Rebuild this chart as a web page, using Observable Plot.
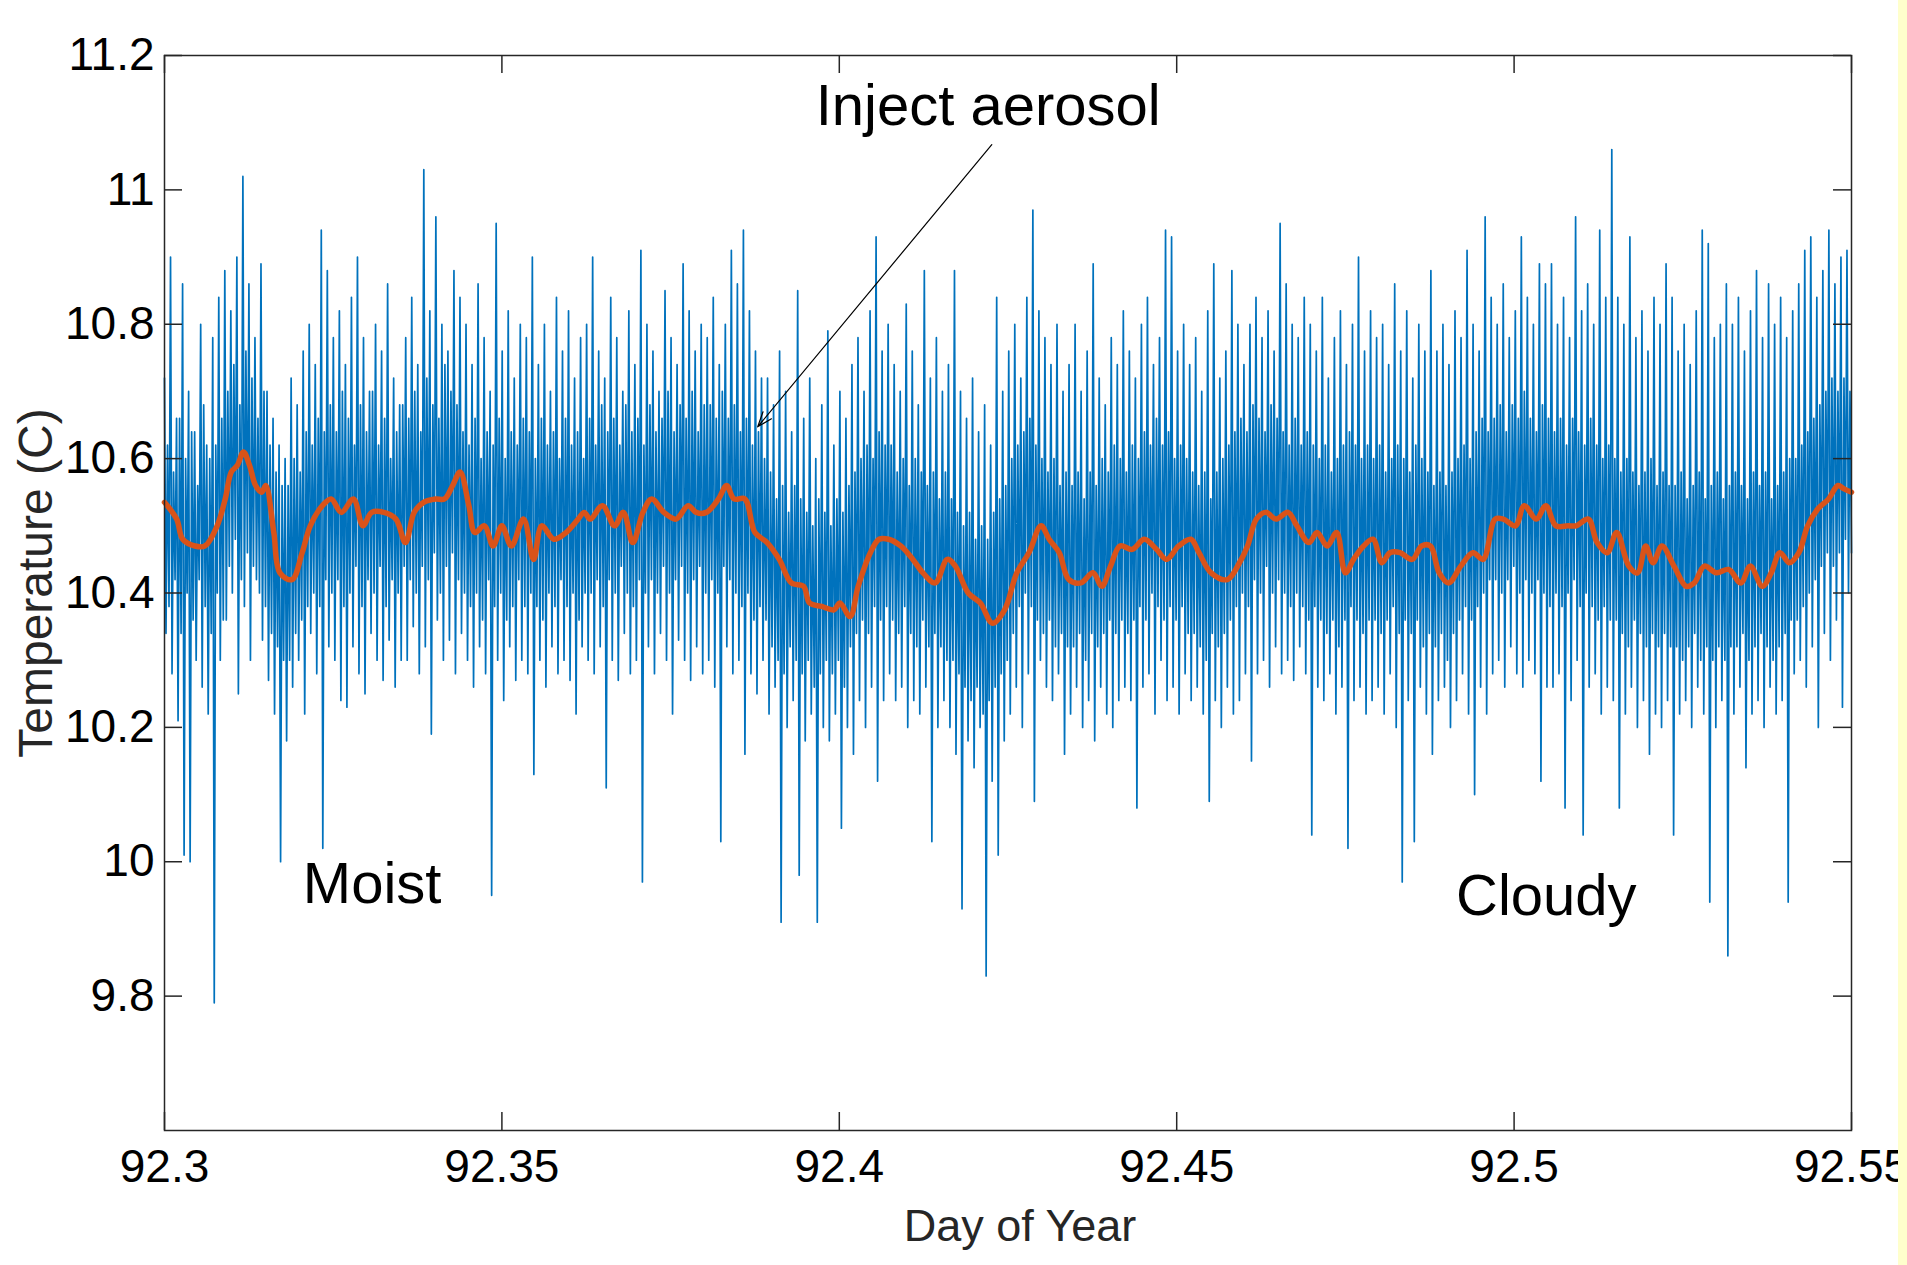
<!DOCTYPE html>
<html><head><meta charset="utf-8">
<script src="https://cdn.jsdelivr.net/npm/d3@7"></script>
<script src="https://cdn.jsdelivr.net/npm/@observablehq/plot@0.6"></script>
<style>
html,body{margin:0;padding:0;background:#fff;}
#wrap{position:relative;width:1907px;height:1265px;overflow:hidden;background:#fff;}
#strip{position:absolute;left:1898px;top:0;width:9px;height:1265px;background:#FFFFCC;z-index:2;}
svg{display:block;}
</style></head><body><div id="wrap"><div id="strip"></div></div>
<script>
// ---- data ----
const dayStart = 92.3, dayEnd = 92.55;
const xTicks = [92.3, 92.35, 92.4, 92.45, 92.5, 92.55];
const xTickLabels = ["92.3", "92.35", "92.4", "92.45", "92.5", "92.55"];
const yTicks = [9.8, 10, 10.2, 10.4, 10.6, 10.8, 11, 11.2];
const yTickLabels = ["9.8", "10", "10.2", "10.4", "10.6", "10.8", "11", "11.2"];
const yDomain = [9.6, 11.2];
const xTitle = "Day of Year";
const yTitle = "Temperature (C)";

// raw temperature, large swings: crest/trough pairs, evenly sampled from 92.3 to 92.55
const rawOuter = [
10.72,10.34,10.90,10.28,10.66,10.21,10.86,10.01,10.70,10.00,10.64,10.30,10.80,10.26,10.62,10.22,10.78,9.79,10.84,10.30,
10.88,10.36,10.82,10.40,10.90,10.25,11.02,10.38,10.86,10.30,10.78,10.42,10.89,10.33,10.70,10.27,10.66,10.22,10.62,10.00,
10.60,10.18,10.72,10.26,10.68,10.30,10.76,10.22,10.80,10.34,10.74,10.28,10.94,10.02,10.88,10.32,10.78,10.30,10.82,10.24,
10.74,10.23,10.84,10.32,10.90,10.28,10.78,10.25,10.70,10.34,10.80,10.30,10.76,10.27,10.86,10.33,10.72,10.26,10.68,10.30,
10.78,10.30,10.84,10.35,10.74,10.28,11.03,10.32,10.82,10.19,10.96,10.36,10.80,10.30,10.76,10.33,10.88,10.28,10.84,10.34,
10.80,10.30,10.74,10.26,10.86,10.32,10.78,10.28,10.70,9.95,10.95,10.30,10.76,10.24,10.82,10.32,10.72,10.27,10.80,10.30,
10.78,10.28,10.90,10.13,10.74,10.30,10.80,10.26,10.70,10.32,10.84,10.28,10.76,10.30,10.82,10.27,10.72,10.22,10.78,10.32,
10.80,10.30,10.90,10.28,10.76,10.32,10.72,10.11,10.84,10.30,10.78,10.27,10.70,10.34,10.82,10.28,10.74,10.30,10.91,9.97,
10.80,10.32,10.76,10.28,10.70,10.34,10.85,10.30,10.78,10.22,10.74,10.33,10.89,10.30,10.82,10.27,10.76,10.32,10.80,10.28,
10.78,10.30,10.84,10.26,10.74,10.03,10.80,10.32,10.91,10.28,10.86,10.30,10.94,10.16,10.82,10.28,10.76,10.25,10.72,10.30,
10.72,10.22,10.68,10.26,10.76,9.91,10.70,10.20,10.64,10.24,10.85,9.98,10.66,10.18,10.72,10.22,10.60,9.91,10.68,10.20,
10.79,10.18,10.62,10.22,10.70,10.05,10.66,10.20,10.74,10.16,10.78,10.24,10.70,10.20,10.82,10.26,10.93,10.12,10.76,10.24,
10.80,10.28,10.74,10.24,10.70,10.26,10.83,10.20,10.76,10.24,10.68,10.22,10.88,10.26,10.72,10.03,10.78,10.20,10.70,10.24,
10.74,10.20,10.88,10.16,10.70,9.93,10.66,10.18,10.72,10.14,10.64,10.20,10.68,9.83,10.62,10.12,10.84,10.01,10.70,10.18,
10.76,10.22,10.80,10.26,10.72,10.20,10.84,10.28,10.97,10.09,10.82,10.30,10.78,10.26,10.74,10.24,10.80,10.28,10.70,10.16,
10.74,10.22,10.80,10.26,10.70,10.20,10.76,10.24,10.89,10.18,10.72,10.26,10.68,10.22,10.78,10.20,10.74,10.24,10.82,10.26,
10.76,10.24,10.72,10.08,10.80,10.26,10.84,10.28,10.74,10.22,10.78,10.30,10.94,10.24,10.93,10.26,10.76,10.22,10.80,10.28,
10.74,10.24,10.78,10.26,10.70,10.22,10.82,10.09,10.89,10.24,10.72,10.20,10.76,10.26,10.88,10.22,10.80,10.24,10.74,10.28,
10.80,10.15,10.84,10.28,10.78,10.30,10.82,10.26,10.76,10.32,10.95,10.28,10.86,10.30,10.80,10.27,10.78,10.32,10.84,10.28,
10.80,10.04,10.76,10.26,10.84,10.24,10.72,10.28,10.78,10.22,10.82,10.26,10.74,10.02,10.80,10.24,10.90,10.26,10.76,10.22,
10.82,10.24,10.78,10.26,10.80,10.22,10.74,10.28,10.86,10.20,10.76,9.97,10.82,10.24,10.72,10.03,10.80,10.26,10.76,10.22,
10.88,10.16,10.76,10.24,10.80,10.26,10.74,10.20,10.82,10.24,10.78,10.28,10.91,10.22,10.80,10.10,10.76,10.26,10.96,10.22,
10.84,10.28,10.80,10.30,10.86,10.26,10.78,10.32,10.82,10.28,10.93,10.26,10.84,10.30,10.80,10.28,10.89,10.12,10.86,10.26,
10.89,10.26,10.80,10.28,10.84,10.08,10.78,10.24,10.96,10.30,10.82,10.04,10.86,10.26,10.80,10.28,10.94,10.22,10.84,10.26,
11.06,10.24,10.84,10.08,10.80,10.22,10.93,10.26,10.78,10.20,10.82,10.24,10.76,10.16,10.84,10.22,10.80,10.20,10.89,10.24,
10.84,10.04,10.76,10.22,10.80,10.24,10.74,10.20,10.82,10.26,10.94,10.22,10.92,9.94,10.78,10.20,10.80,10.24,10.86,9.86,
10.80,10.22,10.84,10.26,10.76,10.14,10.82,10.22,10.88,10.24,10.78,10.20,10.86,10.26,10.80,10.22,10.84,10.24,10.78,9.94,
10.82,10.28,10.86,10.30,10.91,10.26,10.93,10.32,10.84,10.20,10.88,10.34,10.94,10.30,10.86,10.36,10.90,10.23,10.91,10.40
];

// raw temperature, small swings in the dense core between the large ones (same sampling)
const rawInner = [
10.62,10.38,10.58,10.42,10.66,10.34,10.60,10.40,10.64,10.36,10.56,10.42,10.68,10.38,10.60,10.34,10.62,10.40,10.66,10.36,
10.70,10.44,10.74,10.48,10.68,10.42,10.76,10.46,10.72,10.44,10.66,10.40,10.70,10.38,10.62,10.34,10.58,10.32,10.56,10.30,
10.56,10.30,10.60,10.34,10.58,10.36,10.64,10.38,10.62,10.40,10.66,10.38,10.64,10.42,10.68,10.40,10.64,10.42,10.70,10.38,
10.66,10.40,10.62,10.44,10.68,10.38,10.64,10.42,10.70,10.40,10.62,10.44,10.66,10.38,10.60,10.42,10.64,10.40,10.68,10.44,
10.66,10.42,10.70,10.40,10.64,10.44,10.72,10.42,10.68,10.46,10.66,10.40,10.74,10.44,10.70,10.46,10.68,10.42,10.64,10.40,
10.62,10.38,10.66,10.40,10.60,10.36,10.64,10.42,10.62,10.38,10.66,10.40,10.60,10.36,10.64,10.38,10.62,10.42,10.66,10.38,
10.64,10.40,10.60,10.38,10.66,10.36,10.62,10.40,10.64,10.38,10.60,10.42,10.66,10.38,10.62,10.40,10.64,10.36,10.60,10.40,
10.66,10.40,10.62,10.42,10.68,10.38,10.64,10.42,10.66,10.40,10.62,10.44,10.68,10.40,10.64,10.38,10.66,10.42,10.62,10.40,
10.68,10.42,10.64,10.40,10.66,10.44,10.70,10.40,10.64,10.42,10.68,10.44,10.66,10.40,10.70,10.42,10.64,10.44,10.68,10.40,
10.68,10.42,10.66,10.40,10.70,10.44,10.66,10.42,10.68,10.40,10.64,10.38,10.66,10.40,10.62,10.36,10.64,10.38,10.60,10.36,
10.58,10.32,10.54,10.30,10.56,10.28,10.52,10.32,10.56,10.30,10.54,10.28,10.52,10.30,10.50,10.26,10.54,10.28,10.52,10.30,
10.50,10.28,10.54,10.30,10.52,10.26,10.56,10.32,10.58,10.34,10.60,10.36,10.62,10.34,10.60,10.38,10.64,10.36,10.62,10.38,
10.62,10.36,10.58,10.34,10.60,10.38,10.56,10.34,10.60,10.32,10.58,10.36,10.56,10.32,10.58,10.34,10.54,10.32,10.58,10.30,
10.54,10.30,10.52,10.28,10.50,10.26,10.52,10.24,10.48,10.26,10.50,10.22,10.48,10.24,10.52,10.26,10.54,10.28,10.56,10.30,
10.60,10.34,10.62,10.38,10.64,10.40,10.66,10.38,10.62,10.36,10.60,10.34,10.58,10.36,10.60,10.32,10.56,10.34,10.58,10.32,
10.56,10.32,10.58,10.34,10.54,10.30,10.58,10.34,10.56,10.32,10.60,10.34,10.58,10.36,10.62,10.34,10.60,10.36,10.58,10.34,
10.62,10.36,10.60,10.38,10.64,10.36,10.62,10.40,10.66,10.38,10.62,10.36,10.64,10.38,10.60,10.36,10.62,10.38,10.60,10.34,
10.58,10.34,10.56,10.32,10.58,10.30,10.54,10.34,10.58,10.32,10.60,10.34,10.62,10.36,10.64,10.38,10.66,10.40,10.64,10.38,
10.68,10.42,10.66,10.40,10.64,10.44,10.68,10.40,10.66,10.42,10.64,10.40,10.62,10.38,10.66,10.40,10.62,10.38,10.64,10.36,
10.62,10.38,10.60,10.36,10.62,10.34,10.58,10.36,10.60,10.32,10.62,10.36,10.64,10.38,10.62,10.36,10.60,10.34,10.62,10.36,
10.60,10.36,10.62,10.34,10.58,10.36,10.60,10.38,10.62,10.34,10.60,10.36,10.58,10.34,10.62,10.36,10.60,10.32,10.58,10.34,
10.56,10.32,10.58,10.34,10.56,10.30,10.58,10.34,10.60,10.36,10.62,10.38,10.60,10.36,10.64,10.38,10.66,10.40,10.64,10.42,
10.66,10.42,10.68,10.40,10.64,10.42,10.68,10.44,10.66,10.40,10.70,10.42,10.66,10.40,10.64,10.42,10.68,10.40,10.66,10.38,
10.64,10.40,10.66,10.38,10.62,10.40,10.66,10.42,10.64,10.38,10.62,10.40,10.66,10.38,10.62,10.36,10.60,10.38,10.62,10.36,
10.60,10.36,10.58,10.34,10.60,10.32,10.58,10.36,10.56,10.34,10.58,10.32,10.60,10.34,10.56,10.32,10.58,10.34,10.56,10.32,
10.56,10.32,10.58,10.30,10.54,10.32,10.56,10.34,10.58,10.30,10.54,10.32,10.56,10.30,10.58,10.32,10.54,10.30,10.56,10.32,
10.58,10.32,10.56,10.34,10.54,10.30,10.58,10.32,10.56,10.34,10.58,10.32,10.54,10.30,10.56,10.32,10.58,10.34,10.60,10.36,
10.60,10.36,10.62,10.38,10.64,10.40,10.66,10.42,10.68,10.44,10.70,10.46,10.72,10.44,10.70,10.46,10.72,10.48,10.70,10.46
];

// smoothed temperature: day / value pairs
const smoothDay = [
92.3000,92.3018,92.3027,92.3045,92.3060,92.3078,92.3090,92.3099,92.3108,92.3117,92.3126,92.3135,92.3144,92.3150,92.3162,92.3171,92.3189,92.3204,92.3216,92.3234,
92.3247,92.3262,92.3280,92.3294,92.3307,92.3325,92.3343,92.3357,92.3370,92.3384,92.3402,92.3415,92.3427,92.3438,92.3451,92.3460,92.3474,92.3487,92.3500,92.3514,
92.3532,92.3547,92.3559,92.3577,92.3595,92.3613,92.3622,92.3631,92.3649,92.3667,92.3680,92.3694,92.3709,92.3722,92.3740,92.3758,92.3776,92.3788,92.3803,92.3821,
92.3833,92.3844,92.3860,92.3875,92.3893,92.3911,92.3929,92.3947,92.3956,92.3974,92.3992,92.4001,92.4016,92.4028,92.4046,92.4059,92.4073,92.4091,92.4109,92.4124,
92.4142,92.4160,92.4172,92.4191,92.4209,92.4227,92.4245,92.4263,92.4281,92.4299,92.4311,92.4326,92.4340,92.4358,92.4376,92.4389,92.4402,92.4416,92.4434,92.4452,
92.4470,92.4485,92.4503,92.4521,92.4533,92.4551,92.4575,92.4593,92.4605,92.4618,92.4632,92.4647,92.4665,92.4678,92.4696,92.4708,92.4723,92.4737,92.4750,92.4762,
92.4777,92.4791,92.4804,92.4816,92.4831,92.4849,92.4863,92.4876,92.4889,92.4903,92.4921,92.4939,92.4954,92.4972,92.4984,92.5002,92.5015,92.5033,92.5047,92.5062,
92.5080,92.5092,92.5110,92.5123,92.5138,92.5152,92.5170,92.5183,92.5195,92.5206,92.5219,92.5237,92.5255,92.5267,92.5282,92.5300,92.5318,92.5336,92.5350,92.5368,
92.5381,92.5394,92.5408,92.5422,92.5435,92.5450,92.5466,92.5480,92.5489,92.5500
];
const smoothTemp = [
10.535,10.51,10.48,10.47,10.47,10.50,10.54,10.58,10.59,10.61,10.59,10.56,10.55,10.56,10.49,10.43,10.42,10.46,10.50,10.53,
10.54,10.52,10.54,10.50,10.52,10.52,10.51,10.475,10.52,10.535,10.54,10.54,10.56,10.58,10.53,10.49,10.50,10.47,10.50,10.47,
10.51,10.45,10.50,10.48,10.49,10.51,10.52,10.51,10.53,10.50,10.52,10.475,10.52,10.54,10.52,10.51,10.53,10.52,10.52,10.54,
10.56,10.54,10.54,10.49,10.475,10.45,10.415,10.41,10.385,10.38,10.375,10.385,10.365,10.41,10.46,10.48,10.48,10.47,10.45,10.43,
10.415,10.45,10.44,10.40,10.385,10.355,10.375,10.43,10.46,10.50,10.48,10.46,10.42,10.415,10.43,10.41,10.44,10.47,10.465,10.48,
10.465,10.45,10.47,10.48,10.46,10.43,10.42,10.445,10.47,10.51,10.52,10.51,10.52,10.50,10.475,10.49,10.47,10.49,10.43,10.45,
10.47,10.48,10.445,10.46,10.46,10.45,10.47,10.47,10.43,10.415,10.44,10.46,10.45,10.51,10.51,10.50,10.53,10.51,10.53,10.50,
10.50,10.50,10.51,10.475,10.46,10.49,10.44,10.43,10.47,10.445,10.47,10.44,10.41,10.415,10.44,10.43,10.435,10.415,10.44,10.41,
10.43,10.46,10.445,10.46,10.50,10.525,10.54,10.56,10.555,10.55
];

const annotationText = ["Inject aerosol", "Moist", "Cloudy"];
const annotationDay = [92.3965, 92.3205, 92.4914];
const annotationTemp = [11.124, 9.966, 9.949];
const arrowFromDay = 92.4226, arrowFromTemp = 11.0674;
const arrowToDay = 92.3879, arrowToTemp = 10.6473;

// ---- build tables ----
// interleave each large crest/trough pair with the small core pair that follows it
const rawSeq = [];
for (let k = 0; k < rawOuter.length; k += 2) {
  rawSeq.push(rawOuter[k], rawOuter[k + 1], rawInner[k], rawInner[k + 1]);
}
const rawData = rawSeq.map((t, i) => ({day: dayStart + i * (dayEnd - dayStart) / (rawSeq.length - 1), temp: t}));
const smoothData = smoothTemp.map((t, i) => ({day: smoothDay[i], temp: t}));
const notes = annotationText.map((t, i) => ({text: t, day: annotationDay[i], temp: annotationTemp[i]}));
const arrows = [{x1: arrowFromDay, y1: arrowFromTemp, x2: arrowToDay, y2: arrowToTemp}];

const W = 1907, H = 1265;
const mL = 164, mR = 56, mT = 55, mB = 135;
const innerW = W - mL - mR, innerH = H - mT - mB;
const tickLen = 18;
const axisColor = "#262626";

const chart = Plot.plot({
  width: W, height: H,
  marginLeft: mL, marginRight: mR, marginTop: mT, marginBottom: mB,
  x: {domain: [dayStart, dayEnd], axis: null},
  y: {domain: yDomain, axis: null},
  style: {fontFamily: "'Liberation Sans', Arial, Helvetica, sans-serif", background: "transparent", overflow: "visible"},
  marks: [
    Plot.line(rawData, {x: "day", y: "temp", stroke: "#0072BD", strokeWidth: 1.7}),
    Plot.line(smoothData, {x: "day", y: "temp", stroke: "#D95319", strokeWidth: 5.5, curve: "catmull-rom", strokeLinejoin: "round", strokeLinecap: "round"}),
    Plot.frame({stroke: axisColor, strokeWidth: 1.5}),
    Plot.tickX(xTicks, {x: d => d, insetTop: innerH - tickLen, stroke: axisColor, strokeWidth: 1.5}),
    Plot.tickX(xTicks, {x: d => d, insetBottom: innerH - tickLen, stroke: axisColor, strokeWidth: 1.5}),
    Plot.tickY(yTicks, {y: d => d, insetRight: innerW - tickLen, stroke: axisColor, strokeWidth: 1.5}),
    Plot.tickY(yTicks, {y: d => d, insetLeft: innerW - tickLen, stroke: axisColor, strokeWidth: 1.5}),
    Plot.text(xTicks, {x: d => d, frameAnchor: "bottom", dy: 37, text: (d, i) => xTickLabels[i], fontSize: 46, fill: "#000", lineAnchor: "middle", textAnchor: "middle"}),
    Plot.text(yTicks, {y: d => d, frameAnchor: "left", dx: -10, text: (d, i) => yTickLabels[i], fontSize: 46, fill: "#000", lineAnchor: "middle", textAnchor: "end"}),
    Plot.text([xTitle], {frameAnchor: "bottom", dx: 12, dy: 96, text: d => d, fontSize: 45, fill: axisColor, lineAnchor: "middle", textAnchor: "middle"}),
    Plot.text([yTitle], {frameAnchor: "left", dx: -128, dy: -10, text: d => d, rotate: -90, fontSize: 48, fill: axisColor, lineAnchor: "middle", textAnchor: "middle"}),
    Plot.text(notes, {x: "day", y: "temp", text: "text", fontSize: 58, fill: "#000", textAnchor: "start", lineAnchor: "middle"}),
    Plot.arrow(arrows, {x1: "x1", y1: "y1", x2: "x2", y2: "y2", stroke: "#000", strokeWidth: 1.2, headLength: 20, headAngle: 40})
  ]
});
document.getElementById("wrap").appendChild(chart);
</script>
</body></html>
